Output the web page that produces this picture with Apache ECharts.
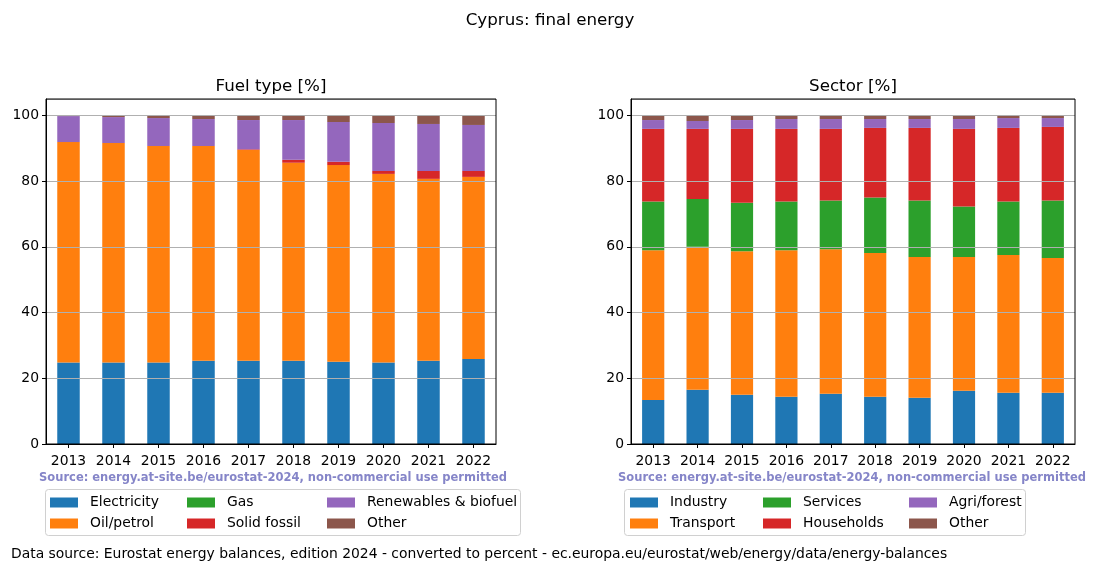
<!DOCTYPE html>
<html><head><meta charset="utf-8">
<script src="https://cdn.jsdelivr.net/npm/echarts@6/dist/echarts.min.js"></script>
<style>html,body{margin:0;padding:0;background:#fff}#c{width:1100px;height:572px}</style>
</head><body><div id="c"></div>
<script>
const years = ['2013','2014','2015','2016','2017','2018','2019','2020','2021','2022'];
const yTicks = [0,20,40,60,80,100];

// Fuel type [%]
const fuelElectricity = [24.8,24.8,24.8,25.3,25.3,25.3,25.0,24.8,25.3,25.9];
const fuelOil         = [67.1,66.8,65.9,65.4,64.2,60.3,59.9,57.4,55.4,55.4];
const fuelGas         = [0,0,0,0,0,0,0,0,0,0];
const fuelSolid       = [0,0,0,0,0.2,0.9,1.0,0.9,2.4,1.8];
const fuelRenew       = [7.9,7.9,8.5,8.2,8.9,12.1,12.1,14.6,14.3,14.0];
const fuelOther       = [0.2,0.5,0.8,1.1,1.4,1.4,2.0,2.3,2.6,2.9];

// Sector [%]
const secIndustry   = [13.4,16.5,15.0,14.4,15.3,14.4,14.1,16.2,15.6,15.6];
const secTransport  = [45.6,43.5,43.7,44.6,44.0,43.7,42.8,40.7,41.9,41.0];
const secServices   = [14.8,14.6,14.7,14.8,14.8,16.9,17.2,15.4,16.3,17.5];
const secHouseholds = [22.1,21.3,22.5,22.1,21.8,21.2,22.1,23.6,22.4,22.4];
const secAgri       = [2.7,2.4,2.7,3.0,3.0,2.7,2.7,3.0,3.0,2.7];
const secOther      = [1.4,1.7,1.4,1.1,1.1,1.1,1.1,1.1,0.8,0.8];

const fuelNames = ['Electricity','Oil/petrol','Gas','Solid fossil','Renewables & biofuel','Other'];
const sectorNames = ['Industry','Transport','Services','Households','Agri/forest','Other'];
const colors = ['#1f77b4','#ff7f0e','#2ca02c','#d62728','#9467bd','#8c564b'];

const FONT = 'DejaVu Sans';
const FS = 13.9;
const chart = echarts.init(document.getElementById('c'), null, {renderer:'canvas'});

function xAx(i){
  return {type:'category', gridIndex:i, data:years, boundaryGap:true,
    axisLine:{show:true, lineStyle:{color:'#000', width:1}},
    axisTick:{show:true, alignWithLabel:true, interval:0, length:4, lineStyle:{color:'#000'}},
    axisLabel:{color:'#000', fontFamily:FONT, fontSize:FS, margin:10, interval:0, hideOverlap:false},
    splitLine:{show:false}, z:10};
}
function yAx(i){
  return {type:'value', gridIndex:i, min:0, max:105, interval:20,
    axisLine:{show:true, lineStyle:{color:'#000', width:1}},
    axisTick:{show:true, length:4, lineStyle:{color:'#000'}},
    axisLabel:{color:'#000', fontFamily:FONT, fontSize:FS, margin:7, showMaxLabel:false,
      formatter: v => yTicks.indexOf(v) >= 0 ? String(v) : ''},
    splitLine:{show:true, lineStyle:{color:'#b0b0b0', width:1}}, z:10};
}
function mk(names, arrays, idx, stack){
  return arrays.map((d,k)=>({
    name:names[k], type:'bar', stack:stack, xAxisIndex:idx, yAxisIndex:idx,
    data:d, barWidth:'50%', itemStyle:{color:colors[k]}, emphasis:{disabled:true}, z:2
  }));
}
function legendCol(names, left, top){
  return {orient:'vertical', left:left, top:top, padding:0, itemWidth:28, itemHeight:10, itemGap:6,
    icon:'rect', data:names, selectedMode:false,
    textStyle:{color:'#000', fontFamily:FONT, fontSize:FS, padding:[0,0,0,7], lineHeight:15}};
}
function t(text, left, top, size, weight, color, align){
  return {text:text, left:left, top:top, padding:0, textAlign:align||'center',
    textStyle:{fontFamily:FONT, fontSize:size, fontWeight:weight||'normal', color:color||'#000'}};
}

const series = [].concat(
  mk(fuelNames, [fuelElectricity,fuelOil,fuelGas,fuelSolid,fuelRenew,fuelOther], 0, 'fuel'),
  mk(sectorNames, [secIndustry,secTransport,secServices,secHouseholds,secAgri,secOther], 1, 'sector')
);

const src = 'Source: energy.at-site.be/eurostat-2024, non-commercial use permitted';
const option = {
  animation:false,
  backgroundColor:'#fff',
  title:[
    t('Cyprus: final energy', 550, 12, 16.7),
    t('Fuel type [%]', 271, 78, 16.7),
    t('Sector [%]', 853, 78, 16.7),
    t(src, 273, 472, 11.5, 'bold', '#8585c8'),
    t(src, 852, 472, 11.5, 'bold', '#8585c8'),
    t('Data source: Eurostat energy balances, edition 2024 - converted to percent - ec.europa.eu/eurostat/web/energy/data/energy-balances', 11, 547, FS, 'normal', '#000', 'left')
  ],
  grid:[
    {left:46, right:604, top:99, bottom:128, show:true, borderColor:'#000', borderWidth:1, backgroundColor:'transparent', z:11},
    {left:631, right:25, top:99, bottom:128, show:true, borderColor:'#000', borderWidth:1, backgroundColor:'transparent', z:11}
  ],
  xAxis:[xAx(0), xAx(1)],
  yAxis:[yAx(0), yAx(1)],
  legend:[
    legendCol([fuelNames[0],fuelNames[1]], 50, 495),
    legendCol([fuelNames[2],fuelNames[3]], 187, 495),
    legendCol([fuelNames[4],fuelNames[5]], 327, 495),
    legendCol([sectorNames[0],sectorNames[1]], 630, 495),
    legendCol([sectorNames[2],sectorNames[3]], 763, 495),
    legendCol([sectorNames[4],sectorNames[5]], 909, 495)
  ],
  graphic:[
    {type:'rect', shape:{x:45.5, y:489.5, width:475, height:46, r:3}, style:{fill:'#fff', stroke:'#d0d0d0', lineWidth:1}, z:-1, silent:true},
    {type:'rect', shape:{x:624.5, y:489.5, width:401, height:46, r:3}, style:{fill:'#fff', stroke:'#d0d0d0', lineWidth:1}, z:-1, silent:true}
  ],
  series: series
};
chart.setOption(option);
</script>
</body></html>
